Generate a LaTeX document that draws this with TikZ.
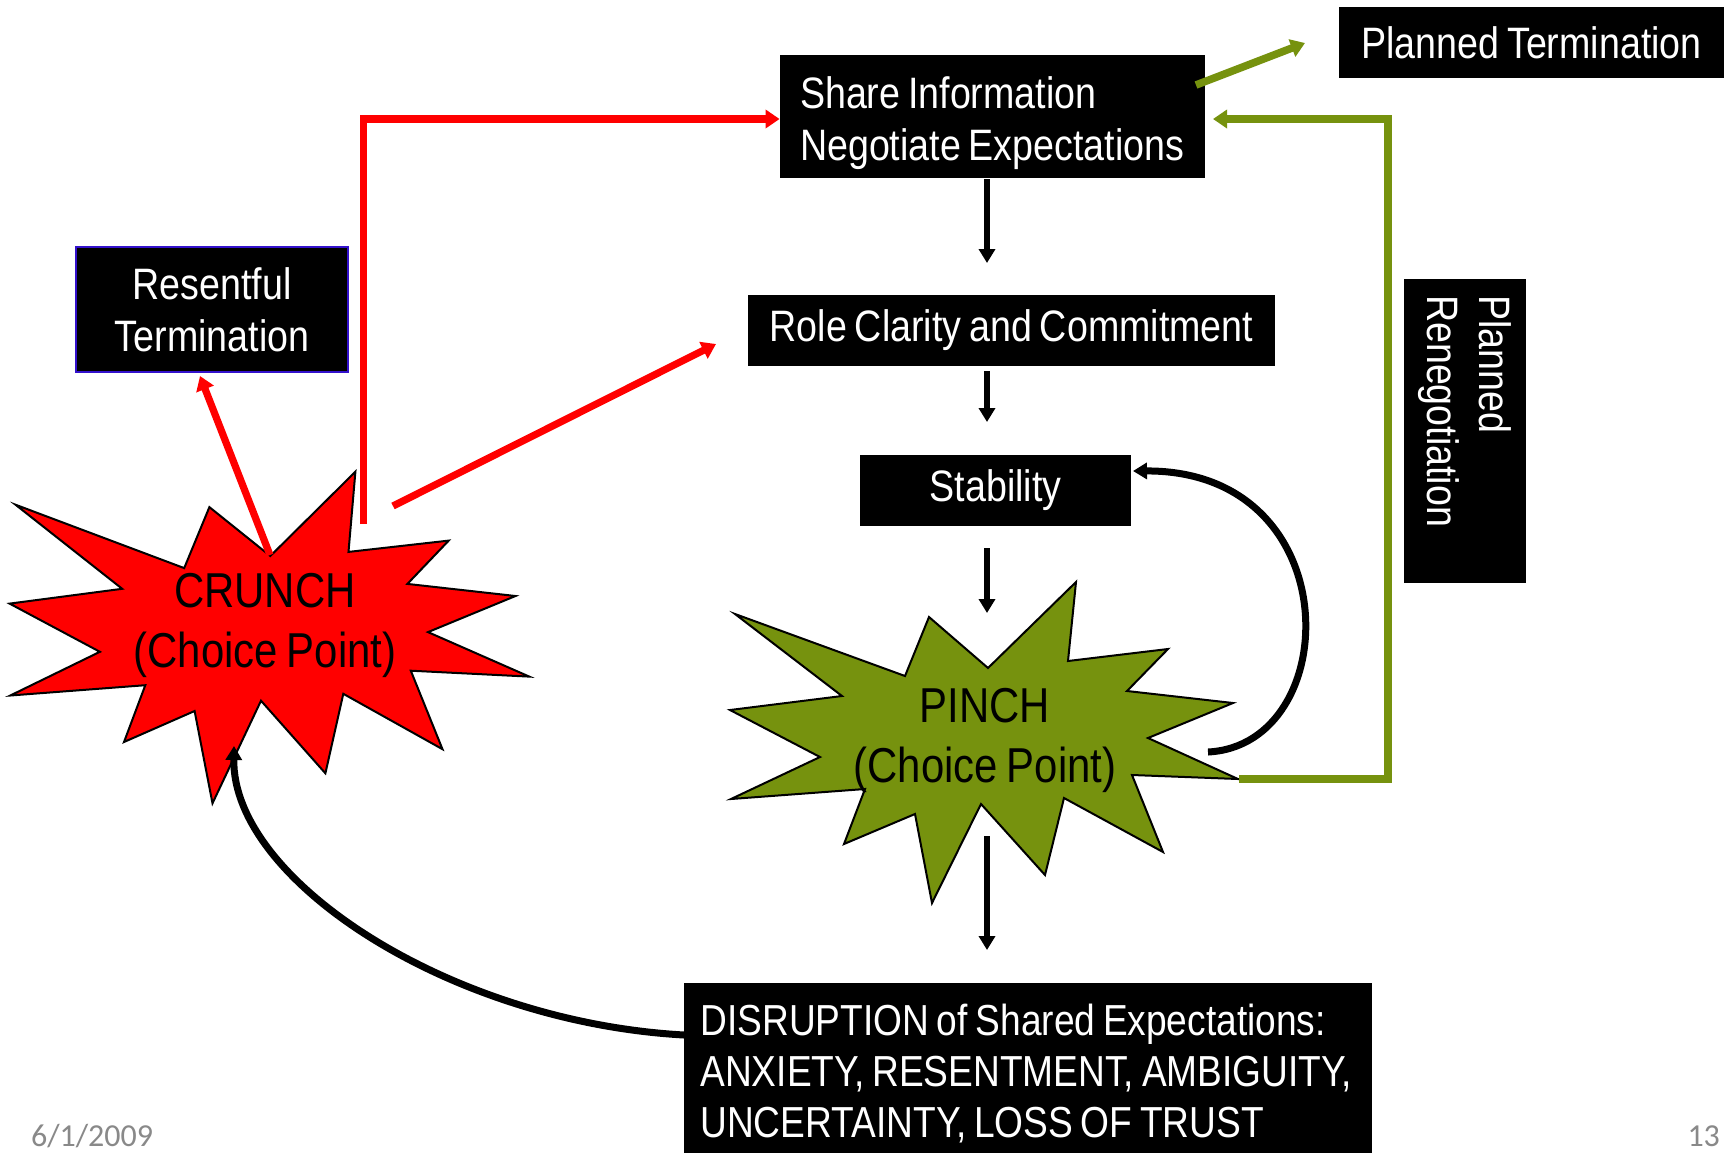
\documentclass[tikz,border=0pt]{standalone}
\usepackage{fontspec}
\setmainfont[FakeStretch=0.855,WordSpace=0.75]{Liberation Sans}
\newfontfamily\footfont{Carlito}
\usetikzlibrary{arrows.meta}

\definecolor{crunchRed}{RGB}{255,0,0}
\definecolor{pinchGreen}{RGB}{118,146,14}
\definecolor{borderBlue}{RGB}{51,17,204}
\definecolor{footGray}{RGB}{137,137,137}

\tikzset{
  blackbox/.style={fill=black,text=white,inner sep=0pt,font=\fontsize{22}{26}\selectfont},
  bursttext/.style={align=flush center,font=\fontsize{24.5}{30}\selectfont},
  redline/.style={draw=crunchRed,line width=3.6pt,-{Triangle[length=7pt,width=9pt]}},
  greenline/.style={draw=pinchGreen,line width=3.8pt,-{Triangle[length=7pt,width=9pt]}},
  blackline/.style={draw=black,line width=3pt,-{Triangle[length=7pt,width=8pt]}},
  burst/.style={draw=black,line width=1pt,line join=miter}
}

\begin{document}
\begin{tikzpicture}[x=0.5pt,y=-0.5pt]
\path[use as bounding box,fill=white] (0,0) rectangle (1724,1152);

% starbursts
\path[burst,fill=crunchRed] (15.5,504.7) -- (184.2,568.1) -- (209.4,507.1) -- (270.3,556)
  -- (355.4,471.7) -- (348.5,551.9) -- (448.7,540.6) -- (407.4,583.9) -- (515.5,596)
  -- (428,632.1) -- (529.3,676.6) -- (410.8,670.7) -- (442.5,749.2) -- (343.3,693.8)
  -- (325.4,773.3) -- (261,700.7) -- (212.5,803.3) -- (194.6,711) -- (124,742)
  -- (145.3,685.2) -- (10.3,695.5) -- (99.9,651.8) -- (9.6,603.6) -- (122.2,588.8) -- cycle;
\path[burst,fill=pinchGreen] (735,614) -- (905,676) -- (929,617) -- (988,668) -- (1076,582)
  -- (1068,661) -- (1168,649) -- (1127,691) -- (1233,703) -- (1148,738) -- (1238,779)
  -- (1132,775) -- (1163,852) -- (1064,798) -- (1045,875) -- (981,804) -- (932,903)
  -- (915,814) -- (844,844) -- (865,789) -- (731,799) -- (820,757) -- (730,710)
  -- (842,696) -- cycle;

\node[bursttext] (crunch) at (265,625) {CRUNCH\\(Choice Point)};
\node[bursttext] (pinch) at (985,740) {PINCH\\(Choice Point)};

% boxes
\node[blackbox,minimum width=212.5pt,minimum height=61.5pt,text width=192.5pt,text height=22.7pt,align=flush left] (share) at (992.5,116.5) {Share Information\\Negotiate Expectations};
\node[blackbox,minimum width=192.5pt,minimum height=35.5pt] (planned) at (1531.5,42.5) {Planned Termination};
\node[blackbox,draw=borderBlue,line width=1pt,minimum width=136pt,minimum height=62.5pt,align=flush center] (resent) at (212,309.5) {Resentful\\Termination};
\node[blackbox,minimum width=263.5pt,minimum height=35.5pt] (role) at (1011.5,330.5) {Role Clarity and Commitment};
\node[blackbox,minimum width=135.5pt,minimum height=35.5pt] (stab) at (995.5,490.5) {Stability};
\node[blackbox,rotate=-90,minimum width=152pt,minimum height=61pt,text width=136pt,align=flush left] (reneg) at (1465,431) {Planned\\Renegotiation};
\node[blackbox,anchor=north west,minimum width=344pt,minimum height=90pt,inner xsep=8pt,text width=328pt,align=flush left,font=\fontsize{21.7}{25.5}\selectfont] (disrupt) at (684,983) {DISRUPTION of Shared Expectations:\\ANXIETY, RESENTMENT, AMBIGUITY,\\UNCERTAINTY, LOSS OF TRUST};

% footer
\node[text=footGray,font=\footfont\fontsize{16}{19}\selectfont,anchor=west] (date) at (24,1136) {6/1/2009};
\node[text=footGray,font=\footfont\fontsize{16}{19}\selectfont,anchor=east] (page) at (1727,1136) {13};

% connector ends
\coordinate (c1) at (987,179);
\coordinate (c2) at (987,263);
\coordinate (c3) at (987,371);
\coordinate (c4) at (987,422);
\coordinate (c5) at (987,548);
\coordinate (c6) at (987,613);
\coordinate (c7) at (987,836);
\coordinate (c8) at (987,950);
\coordinate (crtop) at (363.5,524);
\coordinate (crright) at (393,506);
\coordinate (rolein) at (716,344);
\coordinate (crpeak) at (270,555);
\coordinate (resin) at (200,376);
\coordinate (shareout) at (1196,85);
\coordinate (plannedin) at (1305,43);
\coordinate (ptip) at (1239,779);
\coordinate (gcorner) at (1388,119);
\coordinate (sharein) at (1213,119);
\coordinate (loopstart) at (1208,752);
\coordinate (stabin) at (1133,471);
\coordinate (crbottom) at (234,746);

% arrows
\draw[blackline] (c1) -- (c2);
\draw[blackline] (c3) -- (c4);
\draw[blackline] (c5) -- (c6);
\draw[blackline] (c7) -- (c8);
\draw[redline] (crtop) |- (share.west |- sharein);
\draw[redline] (crright) -- (rolein);
\draw[redline] (crpeak) -- (resin);
\draw[greenline] (shareout) -- (plannedin);
\draw[greenline] (ptip) -| (gcorner) -- (sharein);
\draw[blackline,line width=3.5pt] (loopstart) .. controls (1345,745) and (1350,470) .. (stabin);
\draw[blackline,line width=3.5pt] (disrupt.west |- 0,1035) .. controls (450,1022) and (232,880) .. (crbottom);
\end{tikzpicture}
\end{document}
